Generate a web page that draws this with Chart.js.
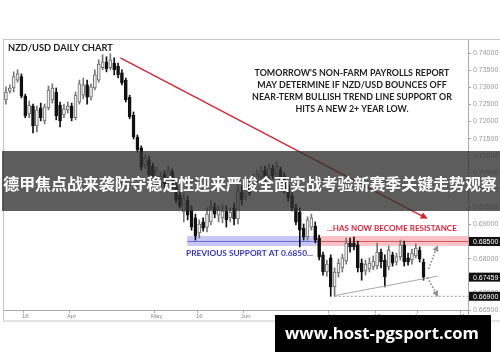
<!DOCTYPE html>
<html><head><meta charset="utf-8">
<script src="https://cdn.jsdelivr.net/npm/chart.js@4.4.1/dist/chart.umd.min.js"></script>
<style>html,body{margin:0;padding:0;background:#fff;}canvas{display:block;}</style>
</head><body>
<canvas id="c" width="500" height="362"></canvas>
<script>
// ---- data ----
const opens  = [0.7263,0.7289,0.7298,0.7321,0.7331,0.7274,0.7222,0.7245,0.7187,0.7240,0.7202,0.7240,0.7263,0.7286,0.7248,0.7219,0.7234,0.7245,0.7211,0.7257,0.7277,0.7307,0.7271,0.7298,0.7321,0.7357,0.7374,0.7357,0.7371,0.7362,0.7342,0.7321,0.7271,0.7219,0.7155,0.7123,0.7073,0.7088,0.7070,0.7023,0.7012,0.7047,0.7029,0.7053,0.7012,0.6985,0.6936,0.6971,0.6942,0.6919,0.6875,0.6907,0.6892,0.6907,0.6951,0.6927,0.6919,0.6939,0.6919,0.6948,0.6916,0.6994,0.6980,0.7018,0.7012,0.7029,0.7038,0.7059,0.7041,0.7064,0.7047,0.7059,0.7041,0.7015,0.6983,0.6948,0.6936,0.6889,0.6863,0.6892,0.6895,0.6860,0.6811,0.6761,0.6802,0.6717,0.6758,0.6773,0.6793,0.6845,0.6845,0.6840,0.6787,0.6764,0.6770,0.6776,0.6779,0.6819,0.6796,0.6776,0.6811,0.6790,0.6805,0.6840,0.6802,0.6796,0.6808,0.6825,0.6790];
const highs  = [0.7301,0.7307,0.7345,0.7351,0.7339,0.7280,0.7260,0.7251,0.7245,0.7254,0.7251,0.7304,0.7310,0.7298,0.7257,0.7251,0.7257,0.7254,0.7286,0.7321,0.7327,0.7321,0.7310,0.7351,0.7380,0.7395,0.7389,0.7398,0.7386,0.7371,0.7351,0.7327,0.7277,0.7228,0.7161,0.7129,0.7102,0.7099,0.7079,0.7067,0.7053,0.7056,0.7070,0.7061,0.7020,0.6994,0.6991,0.6983,0.6954,0.6930,0.6913,0.6919,0.6948,0.6971,0.6962,0.6954,0.6957,0.6954,0.6948,0.6962,0.7015,0.7012,0.7023,0.7029,0.7047,0.7059,0.7070,0.7070,0.7076,0.7073,0.7082,0.7067,0.7050,0.7023,0.6994,0.6959,0.6948,0.6901,0.6922,0.6930,0.6907,0.6869,0.6819,0.6796,0.6811,0.6773,0.6799,0.6813,0.6860,0.6860,0.6863,0.6851,0.6799,0.6796,0.6802,0.6808,0.6845,0.6828,0.6811,0.6837,0.6819,0.6816,0.6854,0.6851,0.6816,0.6828,0.6843,0.6834,0.6799];
const lows   = [0.7251,0.7283,0.7286,0.7315,0.7269,0.7211,0.7211,0.7167,0.7170,0.7202,0.7193,0.7234,0.7254,0.7205,0.7184,0.7211,0.7225,0.7202,0.7205,0.7251,0.7266,0.7251,0.7263,0.7292,0.7315,0.7351,0.7345,0.7351,0.7336,0.7327,0.7307,0.7257,0.7208,0.7149,0.7111,0.7059,0.7064,0.7035,0.7026,0.7015,0.7003,0.7009,0.7020,0.6997,0.6962,0.6948,0.6907,0.6913,0.6883,0.6854,0.6860,0.6880,0.6878,0.6898,0.6919,0.6907,0.6904,0.6892,0.6907,0.6898,0.6901,0.6956,0.6971,0.6983,0.7003,0.7018,0.7029,0.7026,0.7032,0.7032,0.7035,0.7020,0.6991,0.6968,0.6939,0.6898,0.6834,0.6854,0.6854,0.6883,0.6846,0.6796,0.6752,0.6749,0.6690,0.6690,0.6746,0.6761,0.6784,0.6819,0.6825,0.6761,0.6737,0.6752,0.6761,0.6767,0.6770,0.6773,0.6717,0.6767,0.6778,0.6781,0.6796,0.6778,0.6781,0.6784,0.6802,0.6790,0.6737];
const closes = [0.7286,0.7298,0.7331,0.7339,0.7274,0.7217,0.7248,0.7187,0.7234,0.7211,0.7243,0.7292,0.7298,0.7217,0.7202,0.7237,0.7245,0.7211,0.7277,0.7310,0.7307,0.7271,0.7301,0.7336,0.7368,0.7374,0.7354,0.7380,0.7351,0.7336,0.7313,0.7263,0.7214,0.7155,0.7117,0.7067,0.7094,0.7044,0.7035,0.7059,0.7041,0.7018,0.7059,0.7006,0.6971,0.6953,0.6977,0.6927,0.6892,0.6866,0.6901,0.6889,0.6930,0.6951,0.6930,0.6942,0.6939,0.6913,0.6936,0.6916,0.7000,0.6971,0.7012,0.6991,0.7035,0.7047,0.7056,0.7035,0.7064,0.7041,0.7070,0.7029,0.7000,0.6977,0.6948,0.6907,0.6883,0.6863,0.6913,0.6919,0.6854,0.6805,0.6761,0.6784,0.6717,0.6761,0.6787,0.6802,0.6845,0.6834,0.6834,0.6773,0.6761,0.6784,0.6787,0.6793,0.6819,0.6790,0.6747,0.6825,0.6787,0.6805,0.6840,0.6790,0.6790,0.6816,0.6831,0.6799,0.67459];
const slotCount = 120;
const xTickIndex = [5, 17, 39, 50, 62, 84, 96, 107, 118];
const xTickText  = ['16', 'Apr', 'May', '16', 'Jun', 'Jul', '17', 'Aug', '11'];
const yTicks = [0.665,0.670,0.675,0.680,0.685,0.690,0.695,0.700,0.705,0.710,0.715,0.720,0.725,0.730,0.735,0.740];
const boxedLevels = [0.685, 0.67459, 0.669];
const zoneTop = 0.6866, zoneBottom = 0.6837, zoneLevel = 0.685;
const supportStart = 46.9, flipIndex = 80.6;
const downTrend = [[29.6, 0.7386], [109.1, 0.6916]];
const risingLine = [[85.0, 0.6692], [111.7, 0.6749]];
const lowLevel = 0.669;
const upArrow = [[109.3, 0.6770], [111.7, 0.6840]];
const downArrow = [[109.0, 0.6745], [111.8, 0.6688]];
const noteLines = ["TOMORROW'S NON-FARM PAYROLLS REPORT","MAY DETERMINE IF NZD/USD BOUNCES OFF","NEAR-TERM BULLISH TREND LINE SUPPORT OR","HITS A NEW 2+ YEAR LOW."];
const bannerText = '德甲焦点战来袭防守稳定性迎来严峻全面实战考验新赛季关键走势观察';
const watermark = 'www.host-pgsport.com';

const slots = Array.from({length: slotCount}, (_, i) => 'd' + i);
const isUp = closes.map((c, i) => c >= opens[i]);

function fitSize(ctx, text, weight, family, w) {
  ctx.font = weight + ' 100px ' + family;
  return 100 * w / ctx.measureText(text).width;
}
function arrowHead(ctx, x1, y1, x2, y2, size, color) {
  const a = Math.atan2(y2 - y1, x2 - x1);
  ctx.fillStyle = color;
  ctx.beginPath();
  ctx.moveTo(x2, y2);
  ctx.lineTo(x2 - size * Math.cos(a - 0.45), y2 - size * Math.sin(a - 0.45));
  ctx.lineTo(x2 - size * Math.cos(a + 0.45), y2 - size * Math.sin(a + 0.45));
  ctx.closePath();
  ctx.fill();
}

const overlay = {
  id: 'overlay',
  beforeDraw(chart) {
    const ctx = chart.ctx;
    ctx.save(); ctx.fillStyle = '#fff'; ctx.fillRect(0, 0, chart.width, chart.height); ctx.restore();
  },
  beforeDatasetsDraw(chart) {
    const {ctx, scales: {x, y}, chartArea: ca} = chart;
    ctx.save();
    const yt = y.getPixelForValue(zoneTop), yb = y.getPixelForValue(zoneBottom);
    const xs = x.getPixelForValue(supportStart), xf = x.getPixelForValue(flipIndex);
    ctx.fillStyle = 'rgba(120,120,240,0.42)';
    ctx.fillRect(xs, yt, xf - xs, yb - yt);
    ctx.fillStyle = 'rgba(245,120,130,0.45)';
    ctx.fillRect(xf, yt, ca.right - xf, yb - yt);
    const yl = y.getPixelForValue(zoneLevel);
    ctx.lineWidth = 1;
    ctx.strokeStyle = 'rgba(80,80,200,0.8)';
    ctx.beginPath(); ctx.moveTo(xs, yl); ctx.lineTo(xf, yl); ctx.stroke();
    ctx.strokeStyle = 'rgba(200,60,70,0.8)';
    ctx.beginPath(); ctx.moveTo(xf, yl); ctx.lineTo(ca.right, yl); ctx.stroke();
    ctx.restore();
  },
  afterDatasetsDraw(chart) {
    const {ctx, scales: {x, y}, chartArea: ca} = chart;
    const P = p => [x.getPixelForValue(p[0]), y.getPixelForValue(p[1])];
    ctx.save();
    // red down trend with arrow
    let [a1, b1] = P(downTrend[0]), [a2, b2] = P(downTrend[1]);
    ctx.strokeStyle = '#d8232f'; ctx.lineWidth = 1.3;
    ctx.beginPath(); ctx.moveTo(a1, b1); ctx.lineTo(a2 - 4, b2 - 2); ctx.stroke();
    arrowHead(ctx, a1, b1, a2, b2, 8, '#d8232f');
    // rising support line
    [a1, b1] = P(risingLine[0]); [a2, b2] = P(risingLine[1]);
    ctx.strokeStyle = '#a8a8a8'; ctx.lineWidth = 1;
    ctx.beginPath(); ctx.moveTo(a1, b1); ctx.lineTo(a2, b2); ctx.stroke();
    // dotted low level
    const yl = y.getPixelForValue(lowLevel);
    ctx.setLineDash([2, 2]); ctx.strokeStyle = '#999';
    ctx.beginPath(); ctx.moveTo(a1, yl); ctx.lineTo(ca.right, yl); ctx.stroke();
    // dotted arrows
    ctx.lineWidth = 1.6; ctx.setLineDash([1.6, 1.8]); ctx.strokeStyle = '#8a8a8a';
    [upArrow, downArrow].forEach(arr => {
      const [p1, q1] = P(arr[0]), [p2, q2] = P(arr[1]);
      const ang = Math.atan2(q2 - q1, p2 - p1);
      ctx.beginPath(); ctx.moveTo(p1, q1); ctx.lineTo(p2 - 5 * Math.cos(ang), q2 - 5 * Math.sin(ang)); ctx.stroke();
      arrowHead(ctx, p1, q1, p2, q2, 7, '#8f8f8f');
    });
    ctx.setLineDash([]);
    // texts
    ctx.textBaseline = 'middle';
    ctx.fillStyle = '#222';
    let s = fitSize(ctx, 'NZD/USD DAILY CHART', 'bold', 'Lato', 105);
    ctx.font = 'bold ' + s + 'px Lato'; ctx.textAlign = 'left';
    ctx.fillText('NZD/USD DAILY CHART', 8, 48);
    s = fitSize(ctx, noteLines[2], 'bold', 'Lato', 200);
    ctx.font = 'bold ' + s + 'px Lato'; ctx.textAlign = 'center';
    noteLines.forEach((t, i) => ctx.fillText(t, 352, 73 + i * 12));
    ctx.fillStyle = '#e3203a';
    s = fitSize(ctx, '...HAS NOW BECOME RESISTANCE', 'bold', 'Lato', 130);
    ctx.font = 'bold ' + s + 'px Lato'; ctx.textAlign = 'left';
    ctx.fillText('...HAS NOW BECOME RESISTANCE', 327, 228);
    ctx.fillStyle = '#3434c4';
    s = fitSize(ctx, 'PREVIOUS SUPPORT AT 0.6850...', 'bold', 'Lato', 127);
    ctx.font = 'bold ' + s + 'px Lato';
    ctx.fillText('PREVIOUS SUPPORT AT 0.6850...', 186, 253);
    ctx.restore();
  },
  afterDraw(chart) {
    const {ctx, scales: {y}, chartArea: ca} = chart;
    ctx.save();
    // frame
    ctx.strokeStyle = '#c6c6c6'; ctx.lineWidth = 1;
    ctx.strokeRect(3.5, 39.5, 497, 281.5);
    ctx.strokeStyle = '#aaa';
    ctx.beginPath(); ctx.moveTo(ca.right + 0.5, ca.bottom); ctx.lineTo(ca.right + 0.5, 321); ctx.stroke();
    // boxed axis values
    ctx.font = '7px "Liberation Sans"'; ctx.textAlign = 'left'; ctx.textBaseline = 'middle';
    boxedLevels.forEach(v => {
      const py = y.getPixelForValue(v);
      ctx.fillStyle = '#111'; ctx.fillRect(ca.right + 1, py - 4.5, 31, 9);
      ctx.fillStyle = '#fff'; ctx.fillText(v.toFixed(5), ca.right + 5, py + 0.5);
    });
    // banner
    ctx.fillStyle = 'rgba(48,48,48,0.78)';
    ctx.fillRect(2, 151, 498, 60);
    let s = fitSize(ctx, bannerText, 'bold', '"Noto Sans CJK SC"', 494);
    ctx.font = 'bold ' + s + 'px "Noto Sans CJK SC"';
    ctx.fillStyle = '#fff'; ctx.textAlign = 'center';
    ctx.fillText(bannerText, 250, 184);
    // watermark
    ctx.fillStyle = '#000';
    ctx.fillRect(275, 315, 216, 37);
    s = fitSize(ctx, watermark, 'bold', '"Open Sans"', 194);
    ctx.font = 'bold ' + s + 'px "Open Sans"';
    ctx.fillStyle = '#fff';
    ctx.fillText(watermark, 382, 334);
    ctx.restore();
  }
};

new Chart(document.getElementById('c'), {
  type: 'bar',
  data: {
    labels: slots,
    datasets: [
      {
        label: 'body',
        data: opens.map((o, i) => [o, closes[i]]),
        backgroundColor: isUp.map(u => u ? '#f2f2f2' : '#111'),
        borderColor: isUp.map(u => u ? '#6a6a6a' : '#111'),
        borderWidth: 1, borderSkipped: false,
        barThickness: 3, grouped: false, order: 1
      },
      {
        label: 'wick',
        data: lows.map((l, i) => [l, highs[i]]),
        backgroundColor: isUp.map(u => u ? '#777' : '#111'),
        barThickness: 1, grouped: false, order: 2
      }
    ]
  },
  options: {
    responsive: false, animation: false, devicePixelRatio: 1,
    layout: {padding: {left: 4, top: 40, right: 0, bottom: 41}},
    plugins: {legend: {display: false}, tooltip: {enabled: false}},
    scales: {
      x: {
        type: 'category', offset: true,
        grid: {drawOnChartArea: false, drawTicks: true, tickLength: 3,
               color: c => xTickIndex.includes(c.index) ? '#aaa' : 'rgba(0,0,0,0)'},
        border: {color: '#aaa'},
        ticks: {autoSkip: false, maxRotation: 0, padding: 0, color: '#888',
                font: {size: 6, family: 'Liberation Sans'},
                callback: (v, i) => { const k = xTickIndex.indexOf(i); return k >= 0 ? xTickText[k] : ''; }},
        afterFit: s => { s.height = 11; }
      },
      y: {
        type: 'linear', position: 'right', min: 0.665, max: 0.7438,
        afterBuildTicks: s => { s.ticks = yTicks.map(v => ({value: v})); },
        grid: {drawOnChartArea: false, tickLength: 3, color: '#aaa'},
        border: {color: '#aaa'},
        ticks: {padding: 2, color: '#999', font: {size: 7, family: 'Liberation Sans'},
                callback: v => Number(v).toFixed(5)},
        afterFit: s => { s.width = 32; }
      }
    }
  },
  plugins: [overlay]
});
</script>
</body></html>
